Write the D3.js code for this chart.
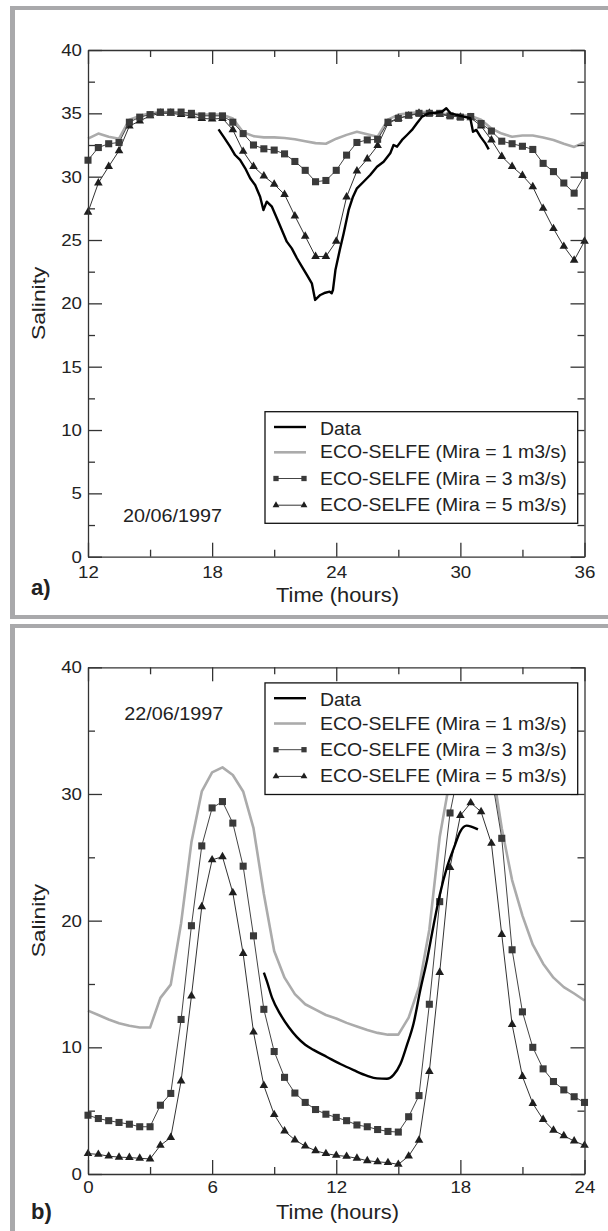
<!DOCTYPE html>
<html>
<head>
<meta charset="utf-8">
<script src="https://cdn.jsdelivr.net/npm/d3@7"></script>
<style>
  html, body { margin: 0; padding: 0; background: #fff; }
  svg { display: block; }
  text { font-family: "Liberation Sans", Arial, Helvetica, sans-serif; fill: #222; }
</style>
</head>
<body>
<svg id="chart" width="608" height="1231"></svg>
<script>
// ---------------- DATA ----------------
const seriesNames = ["Data", "ECO-SELFE (Mira = 1 m3/s)", "ECO-SELFE (Mira = 3 m3/s)", "ECO-SELFE (Mira = 5 m3/s)"];

// Panel a) 20/06/1997
const timeA = [12,12.5,13,13.5,14,14.5,15,15.5,16,16.5,17,17.5,18,18.5,19,19.5,20,20.5,21,21.5,22,22.5,23,23.5,24,24.5,25,25.5,26,26.5,27,27.5,28,28.5,29,29.5,30,30.5,31,31.5,32,32.5,33,33.5,34,34.5,35,35.5,36];
const mira1A = [33.0,33.4,33.15,33.0,34.5,34.8,35.0,35.1,35.1,35.0,35.0,34.9,34.9,34.9,34.6,33.5,33.2,33.1,33.1,33.05,32.95,32.8,32.65,32.6,33.0,33.3,33.55,33.35,33.15,34.5,34.9,35.0,35.1,35.1,35.0,34.9,34.85,34.8,34.5,33.8,33.4,33.15,33.25,33.25,33.1,32.9,32.6,32.35,32.7];
const mira3A = [31.3,32.3,32.6,32.7,34.3,34.7,34.9,35.1,35.1,35.1,35.0,34.8,34.8,34.8,34.3,33.4,32.5,32.2,32.1,31.8,31.2,30.5,29.6,29.7,30.5,31.7,32.7,32.9,32.95,34.3,34.6,34.85,35.0,35.0,35.0,34.8,34.7,34.75,34.2,33.6,32.8,32.6,32.4,32.15,31.05,30.4,29.5,28.7,30.1];
const mira5A = [27.2,29.5,30.8,32.05,34.0,34.4,34.8,35.0,35.0,34.9,34.8,34.6,34.55,34.6,33.7,32.0,30.8,30.05,29.4,28.6,26.9,25.3,23.7,23.7,24.9,28.4,30.45,31.4,32.45,34.2,34.6,34.8,35.0,35.0,34.9,34.8,34.7,34.65,34.0,32.9,31.6,30.8,30.1,29.2,27.5,25.9,24.5,23.4,24.9];
const dataTimeA = [18.31,18.55,18.87,19.11,19.35,19.6,19.84,20.08,20.32,20.48,20.64,20.89,21.13,21.37,21.61,21.85,22.1,22.34,22.58,22.82,22.98,23.23,23.47,23.68,23.78,23.84,23.96,24.17,24.36,24.6,24.81,25.0,25.32,25.64,25.97,26.29,26.61,26.77,26.94,27.18,27.42,27.66,27.9,28.15,28.47,28.79,29.11,29.32,29.52,29.84,30.16,30.48,30.61,30.77,30.97,31.21,31.37];
const dataValA  = [33.74,33.16,32.37,31.71,31.32,30.66,29.87,29.34,28.42,27.37,28.03,27.63,26.72,25.79,24.87,24.34,23.56,22.9,22.24,21.58,20.27,20.66,20.84,20.92,20.8,21.05,22.63,24.21,25.53,27.37,28.42,29.08,29.6,30.13,30.79,31.18,31.84,32.5,32.37,32.9,33.29,33.69,34.21,34.74,35.0,35.05,35.13,35.4,35.0,34.87,34.74,34.61,33.55,33.69,33.16,32.63,32.16];

// Panel b) 22/06/1997
const timeB = [0,0.5,1,1.5,2,2.5,3,3.5,4,4.5,5,5.5,6,6.5,7,7.5,8,8.5,9,9.5,10,10.5,11,11.5,12,12.5,13,13.5,14,14.5,15,15.5,16,16.5,17,17.5,18,18.5,19,19.5,20,20.5,21,21.5,22,22.5,23,23.5,24];
const mira1B = [12.9,12.55,12.2,11.9,11.7,11.56,11.56,13.9,14.95,19.8,26.2,30.2,31.7,32.1,31.5,30.2,27.3,22.1,17.6,15.5,14.2,13.4,12.97,12.55,12.27,11.93,11.65,11.36,11.14,11.0,11.0,12.35,14.76,19.3,26.6,31.2,34.5,35.5,35.0,32.5,27.3,23.2,20.4,18.1,16.6,15.5,14.75,14.25,13.7];
const mira3B = [4.64,4.38,4.21,4.07,3.93,3.73,3.73,5.43,6.36,12.2,19.6,25.9,28.9,29.4,27.7,24.3,18.8,13.0,9.67,7.63,6.39,5.65,5.09,4.72,4.47,4.21,3.87,3.73,3.51,3.36,3.31,4.52,6.19,13.4,21.5,28.5,32.5,34.0,33.5,31.5,26.5,17.7,12.8,10.0,8.3,7.3,6.64,6.1,5.65];
const mira5B = [1.61,1.55,1.41,1.33,1.30,1.24,1.19,2.26,2.88,7.35,14.05,21.1,24.8,25.05,22.2,17.4,11.2,6.98,4.69,3.39,2.69,2.2,1.84,1.61,1.47,1.39,1.24,1.05,0.96,0.9,0.76,1.41,2.66,8.1,15.9,24.2,28.3,29.3,28.6,26.1,18.9,11.8,7.7,5.57,4.3,3.45,3.02,2.6,2.26];
const dataTimeB = [8.5,8.65,8.9,9.3,9.7,10.1,10.5,10.9,11.55,12.2,12.84,13.5,13.97,14.45,14.77,15.1,15.4,15.74,16.06,16.4,16.7,17.0,17.35,17.7,18.0,18.3,18.56,18.85];
const dataValB  = [15.9,15.2,13.9,12.6,11.6,10.8,10.2,9.8,9.24,8.68,8.2,7.75,7.55,7.52,7.83,8.68,10.1,11.9,14.5,17.0,19.6,22.0,24.2,25.8,27.05,27.5,27.4,27.2];

// Axis ticks
const xMajorA = [12,18,24,30,36];
const xMinorA = [15,21,27,33];
const yMajorA = [0,5,10,15,20,25,30,35,40];
const yMinorA = [2.5,7.5,12.5,17.5,22.5,27.5,32.5,37.5];
const xMajorB = [0,6,12,18,24];
const xMinorB = [3,9,15,21];
const yMajorB = [0,10,20,30,40];
const yMinorB = [5,15,25,35];

const xTitle = "Time (hours)";
const yTitle = "Salinity";

// ---------------- DRAW ----------------
const svg = d3.select("#chart");
const AX = "#333";
const FRAME = "#a9a9ab";

function frame(yTop, yBottom, withBottom) {
  svg.append("rect").attr("x", 10).attr("y", yTop).attr("width", 598).attr("height", 4).attr("fill", FRAME);
  svg.append("rect").attr("x", 10).attr("y", yTop).attr("width", 5).attr("height", yBottom - yTop).attr("fill", FRAME);
  if (withBottom) svg.append("rect").attr("x", 10).attr("y", yBottom - 4).attr("width", 598).attr("height", 4).attr("fill", FRAME);
}
frame(6, 619, true);
frame(624, 1231, false);

function label(g, x, y, str, opt) {
  const o = Object.assign({size: 17, sx: 1.1, anchor: "start", rot: 0, weight: "normal"}, opt || {});
  g.append("g")
    .attr("transform", `translate(${x},${y}) rotate(${o.rot}) scale(${o.sx},1)`)
    .append("text")
    .attr("font-size", o.size)
    .attr("font-weight", o.weight)
    .attr("text-anchor", o.anchor)
    .text(str);
}

function panel(cfg) {
  const g = svg.append("g");
  const x = d3.scaleLinear().domain(cfg.xDomain).range([cfg.x0, cfg.x1]);
  const y = d3.scaleLinear().domain([0, 40]).range([cfg.y1, cfg.y0]);

  const line = d3.line().x(d => x(d[0])).y(d => y(d[1]));

  g.append("path").datum(d3.zip(cfg.t, cfg.m1))
    .attr("d", line).attr("fill", "none").attr("stroke", "#ababab").attr("stroke-width", 2.6)
    .attr("stroke-linejoin", "round");

  g.append("path").datum(d3.zip(cfg.t, cfg.m5))
    .attr("d", line).attr("fill", "none").attr("stroke", "#333").attr("stroke-width", 1);
  const tri = d3.symbol().type(d3.symbolTriangle).size(32);
  g.selectAll(".tri").data(d3.zip(cfg.t, cfg.m5)).join("path")
    .attr("transform", d => `translate(${x(d[0])},${y(d[1])})`)
    .attr("d", tri).attr("fill", "#1e1e1e");

  g.append("path").datum(d3.zip(cfg.t, cfg.m3))
    .attr("d", line).attr("fill", "none").attr("stroke", "#444").attr("stroke-width", 1);
  const sq = d3.symbol().type(d3.symbolSquare).size(50);
  g.selectAll(".sq").data(d3.zip(cfg.t, cfg.m3)).join("path")
    .attr("transform", d => `translate(${x(d[0])},${y(d[1])})`)
    .attr("d", sq).attr("fill", "#3a3a3a");

  const dline = d3.line().x(d => x(d[0])).y(d => y(d[1])).curve(cfg.smooth ? d3.curveMonotoneX : d3.curveLinear);
  g.append("path").datum(d3.zip(cfg.dt, cfg.dv))
    .attr("d", dline).attr("fill", "none").attr("stroke", "#000").attr("stroke-width", 2.4)
    .attr("stroke-linejoin", "round");

  function ax(axis, tx, ty, labels) {
    const a = g.append("g").attr("transform", `translate(${tx},${ty})`).call(axis);
    a.selectAll("line").attr("stroke", AX).attr("stroke-width", 1.3);
    a.selectAll(".domain").attr("stroke", AX).attr("stroke-width", 1.3);
    a.selectAll("text").attr("font-size", 17).attr("fill", "#222")
      .attr("font-family", '"Liberation Sans", Arial, sans-serif');
    if (!labels) a.selectAll("text").remove();
    return a;
  }
  const bx = ax(d3.axisBottom(x).tickValues(cfg.xMajor).tickSizeInner(-14).tickSizeOuter(0).tickPadding(cfg.xPad).tickFormat(d3.format("d")), 0, cfg.y1, true);
  bx.selectAll("text").attr("transform", "scale(1.1,1)");
  ax(d3.axisBottom(x).tickValues(cfg.xMinor).tickSizeInner(-7).tickSizeOuter(0), 0, cfg.y1, false).select(".domain").remove();
  ax(d3.axisTop(x).tickValues(cfg.xMajor).tickSizeInner(-14).tickSizeOuter(0), 0, cfg.y0, false);
  ax(d3.axisTop(x).tickValues(cfg.xMinor).tickSizeInner(-7).tickSizeOuter(0), 0, cfg.y0, false).select(".domain").remove();
  const ly = ax(d3.axisLeft(y).tickValues(cfg.yMajor).tickSizeInner(-14).tickSizeOuter(0).tickPadding(6).tickFormat(d3.format("d")), cfg.x0, 0, true);
  ly.selectAll("text").attr("x", -6 / 1.1).attr("transform", "scale(1.1,1)");
  ax(d3.axisLeft(y).tickValues(cfg.yMinor).tickSizeInner(-7).tickSizeOuter(0), cfg.x0, 0, false).select(".domain").remove();
  ax(d3.axisRight(y).tickValues(cfg.yMajor).tickSizeInner(-14).tickSizeOuter(0), cfg.x1, 0, false);
  ax(d3.axisRight(y).tickValues(cfg.yMinor).tickSizeInner(-7).tickSizeOuter(0), cfg.x1, 0, false).select(".domain").remove();

  const L = g.append("g").attr("transform", `translate(265,${cfg.legendY})`);
  L.append("rect").attr("x", 0).attr("y", 0).attr("width", 312.7).attr("height", 111.6)
    .attr("fill", "#fff").attr("stroke", "#111").attr("stroke-width", 1.3);
  const rows = [23.3, 46.6, 72.8, 99.5];
  rows.forEach((by, i) => {
    const sy = by - (i === 0 ? 8 : 6);
    const x1 = 9, x2 = 41;
    const colors = ["#000", "#ababab", "#444", "#333"];
    const widths = [2.4, 2.6, 1, 1];
    L.append("line").attr("x1", x1).attr("x2", x2).attr("y1", sy).attr("y2", sy)
      .attr("stroke", colors[i]).attr("stroke-width", widths[i]);
    if (i === 2) {
      [x1 + 2, x2 - 2].forEach(px => L.append("path").attr("transform", `translate(${px},${sy})`)
        .attr("d", d3.symbol().type(d3.symbolSquare).size(28)).attr("fill", "#3a3a3a"));
    }
    if (i === 3) {
      [x1 + 2, x2 - 2].forEach(px => L.append("path").attr("transform", `translate(${px},${sy})`)
        .attr("d", d3.symbol().type(d3.symbolTriangle).size(20)).attr("fill", "#1e1e1e"));
    }
    label(L, 55, by, seriesNames[i], {size: 18, sx: 1.08});
  });

  label(g, cfg.dateX, cfg.dateY, cfg.date, {size: 18, sx: 1.1});
  label(g, 45, (cfg.y0 + cfg.y1) / 2, yTitle, {size: 19, sx: 1.2, anchor: "middle", rot: -90});
  label(g, 337.5, cfg.timeY, xTitle, {size: 19.5, sx: 1.12, anchor: "middle"});
  label(g, 31, cfg.tagY, cfg.tag, {size: 22, sx: 1.0, weight: "bold"});
}

panel({
  x0: 88, x1: 584.5, y0: 50, y1: 556.7, xDomain: [12, 36],
  xMajor: xMajorA, xMinor: xMinorA, yMajor: yMajorA, yMinor: yMinorA,
  t: timeA, m1: mira1A, m3: mira3A, m5: mira5A, dt: dataTimeA, dv: dataValA, smooth: false,
  legendY: 411.7, date: "20/06/1997", dateX: 123, dateY: 522.3,
  tag: "a)", tagY: 595, timeY: 602.3, xPad: 9
});
panel({
  x0: 88, x1: 584.5, y0: 667.3, y1: 1174, xDomain: [0, 24],
  xMajor: xMajorB, xMinor: xMinorB, yMajor: yMajorB, yMinor: yMinorB,
  t: timeB, m1: mira1B, m3: mira3B, m5: mira5B, dt: dataTimeB, dv: dataValB, smooth: true,
  legendY: 682.9, date: "22/06/1997", dateX: 124.3, dateY: 720,
  tag: "b)", tagY: 1218.7, timeY: 1219, xPad: 7
});
</script>
</body>
</html>
